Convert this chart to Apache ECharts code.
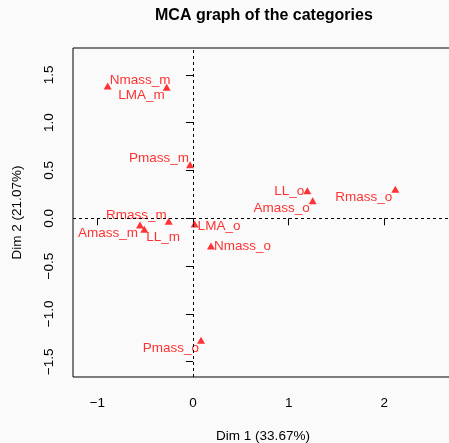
<!DOCTYPE html>
<html>
<head>
<meta charset="utf-8">
<script src="https://cdn.jsdelivr.net/npm/echarts@6/dist/echarts.min.js"></script>
<style>
  html, body { margin: 0; padding: 0; background: #fafafa; }
  #chart { width: 449px; height: 443px; }
</style>
</head>
<body>
<div id="chart"></div>
<script>
// category coordinates on the two first dimensions
const names = ['Nmass_m', 'LMA_m', 'Pmass_m', 'Rmass_m', 'Amass_m', 'LL_m',
  'LMA_o', 'Nmass_o', 'Pmass_o', 'LL_o', 'Amass_o', 'Rmass_o']
const dim1 = [-0.892, -0.275, -0.031, -0.254, -0.554, -0.509,
  0.017, 0.188, 0.084, 1.195, 1.251, 2.115]
const dim2 = [1.384, 1.370, 0.561, -0.031, -0.070, -0.115,
  -0.060, -0.290, -1.276, 0.289, 0.184, 0.303]
const xTicks = [-1, 0, 1, 2]
const yTicks = [-1.5, -1, -0.5, 0, 0.5, 1, 1.5]

// where each label sits next to its point (align, dx, dy)
const labelPlace = {
  Nmass_m: ['left', 2, -6],
  LMA_m: ['right', -2, 8],
  Pmass_m: ['right', -1, -6],
  Rmass_m: ['right', -2, -6],
  Amass_m: ['right', -2, 8],
  LL_m: ['left', 2, 8],
  LMA_o: ['left', 3, 2],
  Nmass_o: ['left', 3, 0],
  Pmass_o: ['right', -2, 8],
  LL_o: ['right', -3, 1],
  Amass_o: ['right', -3, 8],
  Rmass_o: ['right', -3, 8]
}

const font = 'Liberation Sans, Arial, sans-serif'
const fmt = v => (v < 0 ? '\u2212' + Math.abs(v) : String(v))
const fmt1 = v => (v < 0 ? '\u2212' + Math.abs(v).toFixed(1) : v.toFixed(1))

const points = names.map((n, i) => {
  const p = labelPlace[n]
  return {
    name: n,
    value: [dim1[i], dim2[i]],
    label: { align: p[0], offset: [p[1], p[2]] }
  }
})

const myChart = echarts.init(document.getElementById('chart'))
const option = {
  backgroundColor: '#fafafa',
  animation: false,
  title: {
    text: 'MCA graph of the categories',
    left: 155,
    top: 8,
    padding: 0,
    textStyle: { fontFamily: font, fontSize: 16, fontWeight: 'bold', color: '#000' }
  },
  grid: {
    left: 73, top: 48, width: 380, height: 329,
    outerBoundsMode: 'none',
    containLabel: false,
    show: true, borderColor: '#000', borderWidth: 1, backgroundColor: 'transparent'
  },
  xAxis: {
    type: 'value',
    min: -1.2543, max: 2.7177,
    name: 'Dim 1 (33.67%)',
    nameLocation: 'middle',
    nameGap: 52,
    nameTextStyle: { fontFamily: font, fontSize: 13.5, color: '#000' },
    axisLine: { show: false },
    splitLine: { show: false },
    axisTick: { show: true, length: 7, customValues: xTicks, lineStyle: { color: '#000' } },
    axisLabel: { customValues: xTicks, formatter: fmt, margin: 19, fontFamily: font, fontSize: 13.5, color: '#000' }
  },
  yAxis: {
    type: 'value',
    min: -1.660, max: 1.781,
    name: 'Dim 2 (21.07%)',
    nameLocation: 'middle',
    nameRotate: 90,
    nameGap: 49,
    nameTextStyle: { fontFamily: font, fontSize: 13.5, color: '#000' },
    axisLine: { show: false },
    splitLine: { show: false },
    axisTick: { show: true, length: 7, customValues: yTicks, lineStyle: { color: '#000' } },
    axisLabel: { customValues: yTicks, formatter: fmt1, rotate: 90, margin: 17, fontFamily: font, fontSize: 13.5, color: '#000' }
  },
  series: [
    {
      type: 'scatter',
      symbol: 'triangle',
      symbolSize: [8, 7],
      itemStyle: { color: '#ff0000' },
      data: points,
      label: {
        show: true,
        position: 'inside',
        verticalAlign: 'middle',
        formatter: '{b}',
        fontFamily: font,
        fontSize: 13.5,
        color: '#ff0000'
      },
      markLine: {
        silent: true,
        symbol: 'none',
        label: { show: false },
        lineStyle: { color: '#000', type: [3, 3], width: 1 },
        data: [{ xAxis: 0 }, { yAxis: 0 }]
      }
    }
  ]
}
myChart.setOption(option)
</script>
</body>
</html>
